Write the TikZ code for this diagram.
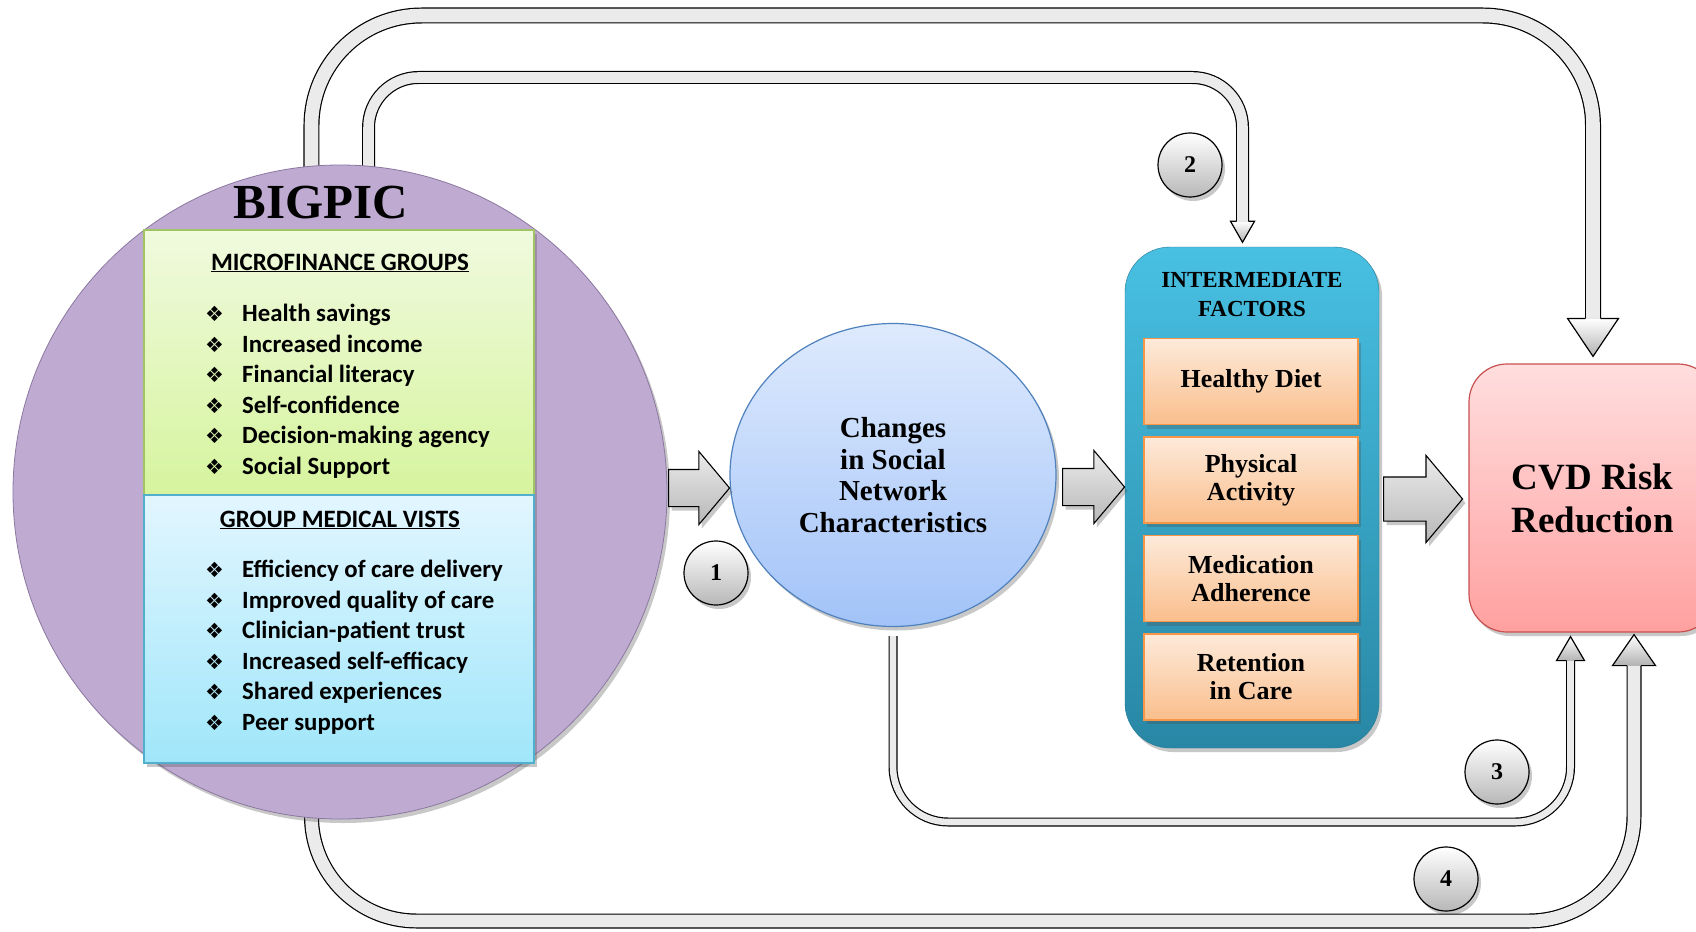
\documentclass[tikz,border=0pt]{standalone}
\usepackage{fontspec}
\setmainfont{Liberation Serif}
\newfontfamily\calibri{Carlito}
\newfontfamily\dingfont{DejaVu Sans}
\usepackage{xcolor}
\usepackage{tikz}
\usetikzlibrary{shapes.geometric,shapes.arrows,positioning,calc,shadows,backgrounds}

\definecolor{lavfill}{RGB}{191,170,210}
\definecolor{lavline}{RGB}{140,120,160}
\definecolor{mftop}{RGB}{240,250,222}
\definecolor{mfbot}{RGB}{214,244,158}
\definecolor{mfline}{RGB}{160,195,100}
\definecolor{gmvtop}{RGB}{226,246,255}
\definecolor{gmvbot}{RGB}{160,230,250}
\definecolor{gmvline}{RGB}{80,175,205}
\definecolor{chtop}{RGB}{222,234,253}
\definecolor{chbot}{RGB}{162,195,248}
\definecolor{chline}{RGB}{79,129,189}
\definecolor{intertop}{RGB}{72,192,226}
\definecolor{interbot}{RGB}{40,135,165}
\definecolor{factortop}{RGB}{253,234,218}
\definecolor{factorbot}{RGB}{250,190,140}
\definecolor{factorline}{RGB}{247,150,70}
\definecolor{cvdtop}{RGB}{255,222,222}
\definecolor{cvdbot}{RGB}{255,160,160}
\definecolor{cvdline}{RGB}{200,80,80}

\newcommand{\bul}{\makebox[37pt][l]{\dingfont\fontsize{21}{21}\selectfont ❖}}
% head of a band arrow: coordinate, half band, half head, length
\newcommand{\bandhead}[4]{%
  \draw[headstyle] ($(#1)+(-#2,0)$) -- ($(#1)+(-#3,0)$) -- ($(#1)+(0,#4)$)
    -- ($(#1)+(#3,0)$) -- ($(#1)+(#2,0)$);}

\begin{document}
\begin{tikzpicture}[x=1pt, y=-1pt,
    softshadow/.style={drop shadow={shadow xshift=3pt, shadow yshift=-4pt, opacity=0.3, fill=black!70}},
    listbox/.style={rectangle, line width=1.2pt, minimum width=390pt, inner sep=0pt, softshadow},
    listtext/.style={anchor=west, align=left, inner sep=0pt, font=\calibri\bfseries\fontsize{24.8}{30.5}\selectfont},
    heading/.style={inner sep=0pt, font=\calibri\bfseries\fontsize{25}{28}\selectfont},
    blockarrow/.style={single arrow, draw=black, line width=1.1pt, top color=black!8, bottom color=black!28,
      single arrow tip angle=100, single arrow head indent=0pt, inner xsep=0pt, anchor=tail, softshadow},
    band/.style={line width=1.2pt, double=black!8},
    headstyle/.style={draw=black, line width=1.2pt, top color=white, bottom color=black!30, line join=miter},
    badge/.style={circle, draw=black, line width=1.2pt, minimum size=64pt, inner sep=0pt,
      top color=white, bottom color=black!28, font=\bfseries\fontsize{24}{24}\selectfont, softshadow},
    factor/.style={rectangle, draw=factorline, line width=1.5pt, top color=factortop, bottom color=factorbot,
      minimum width=214pt, minimum height=86pt, align=center, font=\bfseries\fontsize{26}{28}\selectfont, softshadow}
]
    \useasboundingbox (0,0) rectangle (1696,931);

    % left: the BIGPIC circle
    \node[circle, minimum size=654pt, inner sep=0pt, draw=lavline, line width=0.8pt,
      fill=lavfill, softshadow] (bigpic) at (340,492) {};
    \node[font=\bfseries\fontsize{49}{49}\selectfont] (title) at (321,203) {BIGPIC};
    \node[listbox, minimum height=265pt, top color=mftop, bottom color=mfbot, draw=mfline] (mfbox) at (339,362.5) {};
    \node[listbox, minimum height=268pt, top color=gmvtop, bottom color=gmvbot, draw=gmvline] (gmvbox) at (339,629) {};
    \node[heading] (mftitle) at (340,263) {\underline{MICROFINANCE GROUPS}};
    \node[listtext] (mflist) at (205,391) {\bul Health savings\\\bul Increased income\\\bul Financial literacy\\
      \bul Self-confidence\\\bul Decision-making agency\\\bul Social Support};
    \node[heading] (gmvtitle) at (340,520) {\underline{GROUP MEDICAL VISTS}};
    \node[listtext] (gmvlist) at (205,647) {\bul Efficiency of care delivery\\\bul Improved quality of care\\
      \bul Clinician-patient trust\\\bul Increased self-efficacy\\\bul Shared experiences\\\bul Peer support};

    % middle
    \node[ellipse, minimum width=326pt, minimum height=303pt, inner sep=0pt, draw=chline, line width=1.2pt,
      top color=chtop, bottom color=chbot, align=center, font=\bfseries\fontsize{29}{31.5}\selectfont,
      softshadow] (changes) at (893,475) {Changes\\in Social\\Network\\Characteristics};

    % intermediate factors
    \node[rectangle, rounded corners=45pt, minimum width=254pt, minimum height=501pt,
      top color=intertop, bottom color=interbot, draw=interbot!90!black, softshadow] (inter) at (1252,497.5) {};
    \node[align=center, font=\bfseries\fontsize{23}{29}\selectfont] (intertitle) at (1252,295) {INTERMEDIATE\\FACTORS};
    \node[factor] (diet) at (1251,381.5) {Healthy Diet};
    \node[factor, below=11pt of diet] (activity) {Physical\\Activity};
    \node[factor, below=11pt of activity] (adherence) {Medication\\Adherence};
    \node[factor, below=11pt of adherence] (retention) {Retention\\in Care};

    % outcome
    \node[rectangle, rounded corners=38pt, minimum width=247pt, minimum height=268pt, draw=cvdline, line width=1.2pt,
      top color=cvdtop, bottom color=cvdbot, align=center, font=\bfseries\fontsize{37}{43}\selectfont,
      softshadow] (cvd) at (1592.5,498) {CVD Risk\\Reduction};

    % block arrows
    \node[blockarrow, minimum height=61pt, inner ysep=18pt, single arrow head extend=18pt] (arr1) at (668,488) {};
    \node[blockarrow, minimum height=62pt, inner ysep=18pt, single arrow head extend=18pt] (arr2) at (1062,487) {};
    \node[blockarrow, minimum height=79pt, inner ysep=21.5pt, single arrow head extend=21.5pt] (arr3) at (1383,499) {};

    % band arrows
    \coordinate (outerhead) at ($(cvd.north)+(0.5,-45)$);
    \coordinate (innerhead) at ($(inter.north)+(-9.5,-25.5)$);
    \coordinate (headthree) at ($(cvd.south)+(-22,28)$);
    \coordinate (headfour) at ($(cvd.south)+(41.5,33)$);
    \begin{scope}[on background layer]
        \fill[white] (0,0) rectangle (1696,931);
        \draw[band, double distance=13.6pt, rounded corners=110pt] ([yshift=-12pt]bigpic.95)
          -- (bigpic.95 |- 0,15.5) -- (outerhead |- 0,15.5) -- (outerhead);
        \draw[band, double distance=10.6pt, rounded corners=50pt] ([yshift=-12pt]bigpic.85)
          -- (bigpic.85 |- 0,77.5) -- (innerhead |- 0,77.5) -- (innerhead);
        \draw[band, double distance=6.6pt, rounded corners=55pt] ([yshift=-9pt]changes.south)
          -- (changes.south |- 0,822) -- (headthree |- 0,822) -- (headthree);
        \draw[band, double distance=12.6pt, rounded corners=105pt] ([yshift=12pt]bigpic.265)
          -- (bigpic.265 |- 0,921) -- (headfour |- 0,921) -- (headfour);
    \end{scope}
    \bandhead{outerhead}{7.4}{25.5}{38}
    \bandhead{innerhead}{5.9}{12}{21}
    \bandhead{headthree}{3.9}{14}{-24}
    \bandhead{headfour}{6.9}{21.5}{-31}

    % numbers
    \node[badge] (one) at (716,573) {1};
    \node[badge] (two) at (1190,165) {2};
    \node[badge] (three) at (1497,772) {3};
    \node[badge] (four) at (1446,879) {4};
\end{tikzpicture}
\end{document}
